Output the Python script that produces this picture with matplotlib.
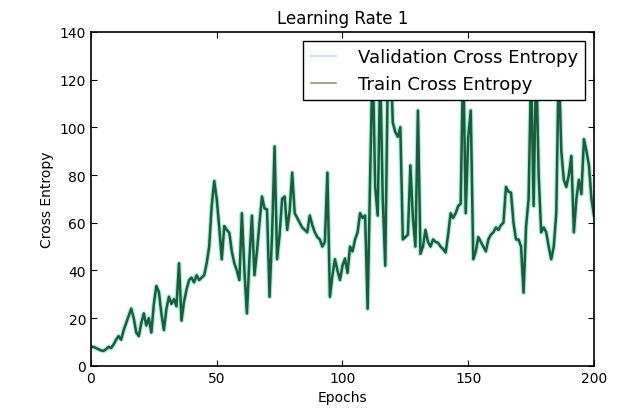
import numpy as np
import matplotlib
matplotlib.use('Agg')
import matplotlib.pyplot as plt

# values, one per epoch (0..200)
epochs = np.arange(0, 201)
val_loss = [8, 8, 7.5, 7, 6.5, 6.3, 7, 8, 7.5, 9,
            11, 12.5, 11, 15, 18, 21, 24, 20, 14, 12.5,
            18, 22, 17, 20, 14, 26, 33.5, 31, 22, 15,
            24, 29, 26, 28, 25, 43, 19, 27, 32, 36,
            37, 35, 38, 36, 37, 38, 43, 50, 67, 77.5,
            70, 58, 44.7, 58.6, 57, 55.8, 48, 43, 40, 36,
            64, 40, 22, 45, 63, 38, 48, 60, 71, 66,
            65.6, 29, 55, 92, 44.7, 55, 70, 71, 57, 65,
            81, 64, 62, 60, 58, 57, 56, 63, 59, 56,
            54, 53, 50, 52, 81, 29, 38, 44.7, 40, 36,
            42, 45, 39, 50, 48, 53, 56, 64, 62, 63,
            24, 79.6, 130, 75, 63, 125, 70, 42, 120, 135,
            102, 98, 96, 100, 53, 54, 55, 84, 62, 50,
            107, 47, 50, 57, 52, 50, 53, 52, 51.6, 50,
            49, 47.5, 55, 64, 62, 64, 67, 68, 130, 64,
            96, 107, 44.7, 48, 54, 52, 50, 48, 53, 55,
            56, 58, 57, 59, 60, 75, 73, 72.6, 60, 53,
            53, 50, 30.7, 58.6, 70, 125, 67, 130, 80, 56,
            58, 56, 50, 44.7, 50, 64, 128, 90, 78, 75,
            80, 88, 56, 70, 78, 72, 95, 90, 84, 70,
            63]
train_loss = list(val_loss)

plt.rcParams['xtick.direction'] = 'in'
plt.rcParams['ytick.direction'] = 'in'
plt.rcParams['xtick.top'] = True
plt.rcParams['ytick.right'] = True
plt.rcParams['font.size'] = 10

fig = plt.figure(figsize=(6.21, 4.10), dpi=100)
ax = fig.add_axes([0.1465, 0.105, 0.81, 0.815])

ax.plot(epochs, val_loss, color='#a6ecd6', linewidth=3.4, label='Validation Cross Entropy')
ax.plot(epochs, train_loss, color='#1a5c3c', linewidth=1.8, label='Train Cross Entropy')

ax.set_xlim(0, 200)
ax.set_ylim(0, 140)
ax.set_xticks([0, 50, 100, 150, 200])
ax.set_yticks(np.arange(0, 141, 20))
ax.tick_params(length=4, labelsize=10)
for s in ax.spines.values():
    s.set_linewidth(1.2)

ax.set_title('Learning Rate 1', fontsize=12)
ax.set_xlabel('Epochs', fontsize=10)
ax.set_ylabel('Cross Entropy', fontsize=10)

leg = ax.legend(loc='upper right', fontsize=13, fancybox=False, framealpha=1,
                edgecolor='black', borderaxespad=0.5,
                handlelength=1.4, handletextpad=1.2)
leg.get_lines()[0].set_color('#c8d4f0')
leg.get_lines()[0].set_linewidth(1.2)
leg.get_lines()[1].set_color('#8aa070')
leg.get_lines()[1].set_linewidth(1.2)

fig.savefig('out.png', dpi=100)
plt.close(fig)
